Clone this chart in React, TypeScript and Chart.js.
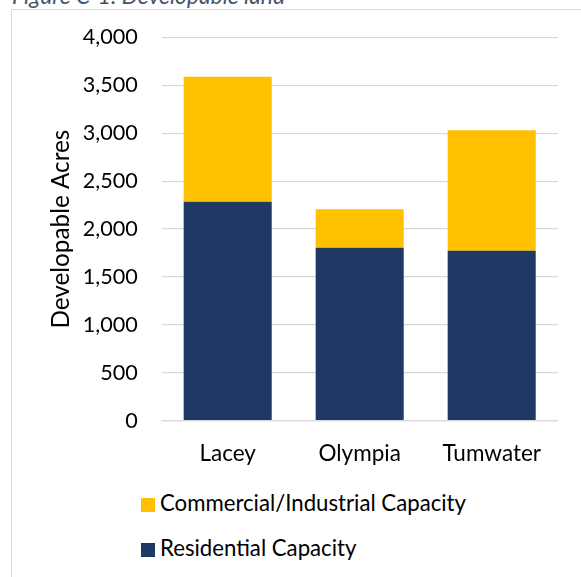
import React, { useEffect, useRef } from "react";
import { Chart, registerables } from "chart.js";

Chart.register(...registerables);

const caption = "Figure C-1. Developable land";
const categories = ["Lacey", "Olympia", "Tumwater"];
const residential = [2286, 1806, 1775];
const commercial = [1305, 401, 1256];
const seriesNames = ["Residential Capacity", "Commercial/Industrial Capacity"];
const seriesColors = ["#203864", "#FFC000"];
const yMin = 0;
const yMax = 4000;
const yStep = 500;
const yTitle = "Developable Acres";

const FONT = "Lato, 'Open Sans', sans-serif";

export default function App() {
  const canvasRef = useRef<HTMLCanvasElement | null>(null);

  useEffect(() => {
    const canvas = canvasRef.current;
    if (!canvas) return;
    const chart = new Chart(canvas, {
      type: "bar",
      data: {
        labels: categories,
        datasets: [
          {
            label: seriesNames[0],
            data: residential,
            backgroundColor: seriesColors[0],
            borderWidth: 0,
            categoryPercentage: 1,
            barPercentage: 0.667,
          },
          {
            label: seriesNames[1],
            data: commercial,
            backgroundColor: seriesColors[1],
            borderWidth: 0,
            categoryPercentage: 1,
            barPercentage: 0.667,
          },
        ],
      },
      options: {
        animation: false,
        responsive: false,
        maintainAspectRatio: false,
        layout: { padding: { top: 28.5, right: 23.3, left: 0, bottom: 0 } },
        plugins: {
          legend: { display: false },
          tooltip: { enabled: false },
          title: { display: false },
        },
        scales: {
          x: {
            stacked: true,
            grid: { display: false, drawTicks: false },
            border: { display: true, color: "#d9d9d9", width: 1.3 },
            ticks: {
              color: "#000",
              padding: 19.4,
              font: { family: FONT, size: 22.5 },
            },
            afterFit: (scale: any) => {
              scale.height = 480 - 411.7;
            },
          },
          y: {
            stacked: true,
            min: yMin,
            max: yMax,
            grid: {
              color: "#d9d9d9",
              lineWidth: 1.3,
              drawTicks: true,
              tickLength: 24,
              tickColor: "rgba(0,0,0,0)",
            },
            border: { display: false },
            ticks: {
              stepSize: yStep,
              color: "#000",
              padding: 0,
              font: { family: FONT, size: 21.6 },
              callback: (v: any) => Number(v).toLocaleString("en-US"),
            },
            title: {
              display: true,
              text: yTitle,
              color: "#000",
              padding: { top: 35.4, bottom: 0 },
              font: { family: FONT, size: 24.3 },
            },
            afterFit: (scale: any) => {
              scale.width = 150.7;
            },
          },
        },
      },
    });
    return () => chart.destroy();
  }, []);

  const legendItems = seriesNames
    .map((name, i) => ({ name, color: seriesColors[i] }))
    .reverse();

  return (
    <div
      style={{
        position: "fixed",
        left: 0,
        top: 0,
        width: 581,
        height: 577,
        overflow: "hidden",
        background: "#fff",
        fontFamily: FONT,
      }}
    >
      <div
        style={{
          position: "absolute",
          left: 12,
          top: -15.7,
          fontSize: 22.8,
          lineHeight: 1,
          fontStyle: "italic",
          color: "#44546A",
          whiteSpace: "nowrap",
        }}
      >
        {caption}
      </div>
      <div
        style={{
          position: "absolute",
          left: 10.5,
          top: 8.5,
          width: 700,
          height: 700,
          borderLeft: "1.5px solid #d9d9d9",
          borderTop: "1.5px solid #d9d9d9",
          boxSizing: "border-box",
        }}
      />
      <canvas
        ref={canvasRef}
        width={570}
        height={480}
        style={{ position: "absolute", left: 11, top: 9, width: 570, height: 480 }}
      />
      {legendItems.map((item, i) => (
        <div key={item.name}>
          <div
            style={{
              position: "absolute",
              left: 141,
              top: 498 + i * 45,
              width: 14,
              height: 14,
              background: item.color,
            }}
          />
          <div
            style={{
              position: "absolute",
              left: 160,
              top: 492 + i * 44.5,
              fontSize: 22.2,
              lineHeight: 1,
              color: "#000",
              whiteSpace: "nowrap",
            }}
          >
            {item.name}
          </div>
        </div>
      ))}
    </div>
  );
}
